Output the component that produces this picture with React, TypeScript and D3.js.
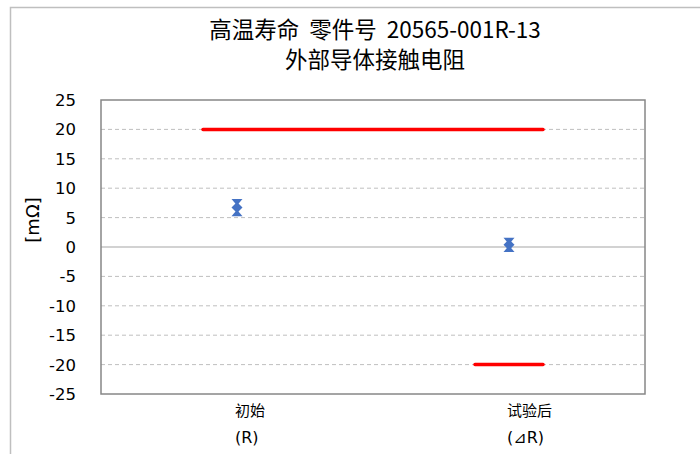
import React from "react";
import * as d3 from "d3";

const categories = ["初始", "试验后"];
const subLabels = ["(R)", "(⊿R)"];
const maxValues = [7.6, 1.0];
const meanValues = [6.7, 0.4];
const minValues = [5.8, -0.3];
// limit lines: [start, end] in category-band units, value
const upperLimit = { from: 0.375, to: 1.625, value: 20 };
const lowerLimit = { from: 1.375, to: 1.625, value: -20 };
const yTicks = [25, 20, 15, 10, 5, 0, -5, -10, -15, -20, -25];
const titleLines = ["高温寿命  零件号  20565-001R-13", "外部导体接触电阻"];
const yLabel = "[mΩ]";

const W = 700, H = 454;
const plot = { left: 101, right: 645, top: 100, bottom: 394 };
const blue = "#4472C4";

export default function App() {
  const x = d3.scaleLinear().domain([0, categories.length]).range([plot.left, plot.right]);
  const y = d3.scaleLinear().domain([-25, 25]).range([plot.bottom, plot.top]);
  const cx = (i: number) => x(i + 0.5);
  const font = "'DejaVu Sans', Verdana, sans-serif";
  const cjk = "'Noto Sans CJK SC', 'Noto Sans', sans-serif";
  const tri = (px: number, py: number, down: boolean) => {
    const s = 5.5, h = 6.5;
    return down
      ? `M${px - s},${py - h / 2}L${px + s},${py - h / 2}L${px},${py + h / 2}Z`
      : `M${px - s},${py + h / 2}L${px + s},${py + h / 2}L${px},${py - h / 2}Z`;
  };
  const diamond = (px: number, py: number) => {
    const s = 5.5;
    return `M${px},${py - s}L${px + s},${py}L${px},${py + s}L${px - s},${py}Z`;
  };
  return (
    <svg width={W} height={H} style={{ position: "absolute", left: 0, top: 0, background: "#fff" }}>
      <rect x={0} y={0} width={W} height={H} fill="#fff" />
      {/* outer chart frame */}
      <path d={`M10.5,${H + 2}V7.5H${W + 2}`} fill="none" stroke="#bfbfbf" strokeWidth={1.5} />
      {/* title */}
      {titleLines.map((t, i) => (
        <text key={i} x={375} y={38 + i * 30} textAnchor="middle" fontFamily={cjk} fontSize={22.5} fill="#000" style={{ whiteSpace: "pre" }}>
          {t}
        </text>
      ))}
      {/* grid */}
      {yTicks.filter((v) => v !== 25 && v !== -25 && v !== 0).map((v) => (
        <line key={v} x1={plot.left} x2={plot.right} y1={y(v)} y2={y(v)} stroke="#bfbfbf" strokeWidth={1} strokeDasharray="4,3" />
      ))}
      <line x1={plot.left} x2={plot.right} y1={y(0)} y2={y(0)} stroke="#a6a6a6" strokeWidth={1.2} />
      <rect x={plot.left} y={plot.top} width={plot.right - plot.left} height={plot.bottom - plot.top} fill="none" stroke="#878787" strokeWidth={1.5} />
      {/* y tick labels */}
      {yTicks.map((v) => (
        <text key={v} x={76} y={y(v) + 6} textAnchor="end" fontFamily={font} fontSize={16.5} fill="#000">
          {v}
        </text>
      ))}
      <text transform={`translate(39,220) rotate(-90)`} textAnchor="middle" fontFamily={font} fontSize={18} fill="#000">
        {yLabel}
      </text>
      {/* limit lines */}
      {[upperLimit, lowerLimit].map((l, i) => (
        <line key={i} x1={x(l.from)} x2={x(l.to)} y1={y(l.value)} y2={y(l.value)} stroke="#FF0000" strokeWidth={3.5} strokeLinecap="round" />
      ))}
      {/* markers */}
      {categories.map((c, i) => (
        <g key={c} fill={blue}>
          <line x1={cx(i)} x2={cx(i)} y1={y(maxValues[i])} y2={y(minValues[i])} stroke={blue} strokeWidth={2} />
          <path d={tri(cx(i), y(maxValues[i]), true)} />
          <path d={tri(cx(i), y(minValues[i]), false)} />
          <path d={diamond(cx(i), y(meanValues[i]))} />
        </g>
      ))}
      {/* category labels */}
      {categories.map((c, i) => (
        <g key={c}>
          <text x={cx(i) - 2} y={416} fontFamily={cjk} fontSize={15} fill="#000">{c}</text>
          <text x={cx(i) - 2} y={443} fontFamily={font} fontSize={16} fill="#000">{subLabels[i]}</text>
        </g>
      ))}
    </svg>
  );
}
